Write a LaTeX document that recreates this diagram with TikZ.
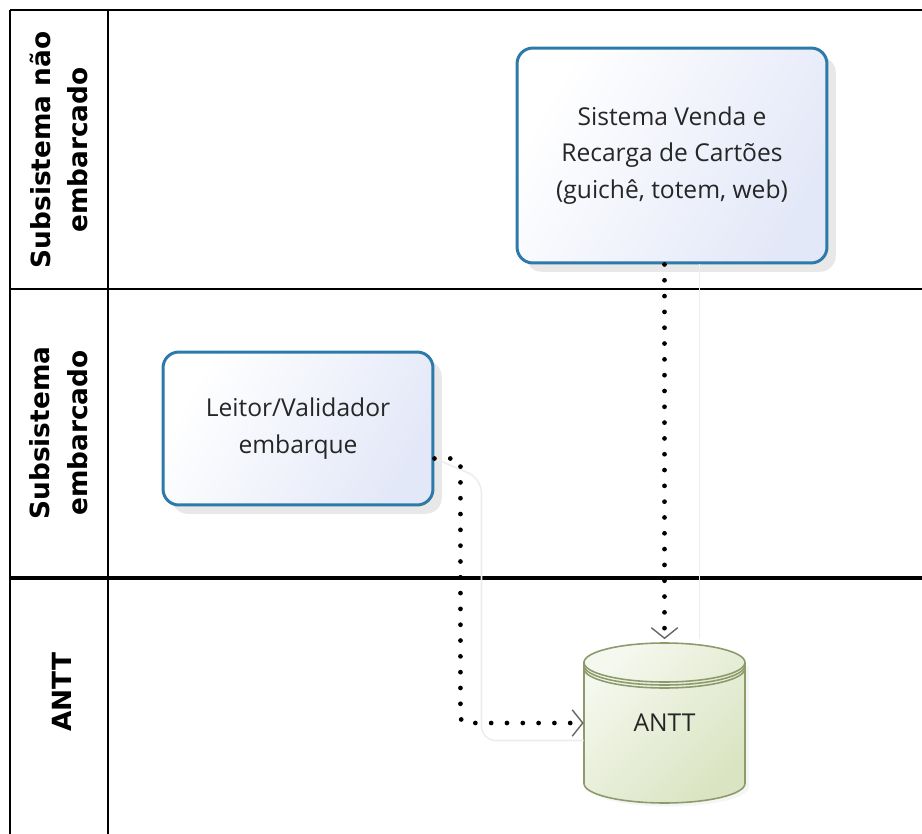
\documentclass[tikz,border=0pt]{standalone}
\usepackage{fontspec}
\setmainfont{Open Sans}
\newfontfamily\lanefont{DejaVu Sans}
\usetikzlibrary{arrows.meta,shadows}
\definecolor{boxblue}{HTML}{2C79AA}
\definecolor{boxfill}{HTML}{E3E8F8}
\definecolor{cylline}{HTML}{8C9A6C}
\definecolor{cyllight}{HTML}{F5F8EE}
\definecolor{cyldark}{HTML}{DAE4C2}
\tikzset{
  lane/.style={rotate=90,align=center,font=\lanefont\bfseries\fontsize{15}{21.5}\selectfont},
  sysbox/.style={draw=boxblue,line width=1.7pt,rounded corners=9pt,align=center,inner sep=0mm,
    left color=white,right color=boxfill,shading angle=60,text=black!85,
    font=\fontsize{14}{20.7}\selectfont,
    drop shadow={shadow xshift=5pt,shadow yshift=-5pt,opacity=0.18}},
  dotline/.style={line width=2.7pt,line cap=round,dash pattern=on 0pt off 9pt,
    -{Straight Barb[length=6pt,width=15pt,line width=0.8pt,color=black!60]}},
  ghost/.style={draw=black!7,line width=0.9pt,rounded corners=8pt}
}
\begin{document}
\begin{tikzpicture}[x=0.02cm,y=-0.02cm]
\useasboundingbox (0,0) rectangle (922,834);
\foreach \y/\w in {10/1.2pt, 289/1.2pt, 578/1.9pt}
  \draw[line width=\w] (10,\y) -- (922,\y);
\foreach \x in {10,108}
  \draw[line width=1.2pt] (\x,10) -- (\x,834);
\foreach \x/\y/\n/\t in {59/150/nonboard/{Subsistema não\\embarcado}, 59/433/onboard/{Subsistema\\embarcado}, 62/692/anttlane/ANTT}
  \node[lane] (\n) at (\x,\y) {\t};
\foreach \x/\y/\w/\h/\n/\t in {672/155.5/6.2/4.3/venda/{Sistema Venda e\\Recarga de Cartões\\(guichê, totem, web)}, 298/428.5/5.4/3.06/leitor/{Leitor/Validador\\embarque}}
  \node[sysbox,minimum width=\w cm,minimum height=\h cm] (\n) at (\x,\y) {\t};
\fill[black!8,opacity=0.5] (588,666) -- (588,787) arc[start angle=180,end angle=360,x radius=1.61cm,y radius=0.39cm] -- (749,666) -- cycle;
\path[draw=cylline,line width=0.9pt,left color=cyllight,right color=cyldark,shading angle=45]
  (584,662.5) -- (584,783.5) arc[start angle=180,end angle=360,x radius=1.61cm,y radius=0.39cm]
  -- (745,662.5) arc[start angle=0,end angle=180,x radius=1.61cm,y radius=0.39cm] -- cycle;
\foreach \d in {0,3,6}
  \draw[cylline,line width=0.9pt] (584,662.5+\d) arc[start angle=180,end angle=360,x radius=1.61cm,y radius=0.39cm];
\node[minimum width=3.22cm,minimum height=3.2cm,text=black!85,font=\fontsize{14}{17}\selectfont] (antt) at (664.5,723) {ANTT};
\draw[ghost] ([xshift=20pt]venda.south -| antt.north) -- ([xshift=20pt,yshift=2pt]antt.north);
\draw[ghost] ([yshift=-0.6cm]leitor.east) -- ++(0.94cm,-0.4cm) |- ([yshift=-0.35cm]antt.west);
\draw[dotline] (venda.south -| antt.north) -- ([yshift=2pt]antt.north);
\draw[dotline,rounded corners=3pt] ([yshift=-0.6cm]leitor.east) -- ++(0.52cm,0) |- (antt.west);
\end{tikzpicture}
\end{document}
